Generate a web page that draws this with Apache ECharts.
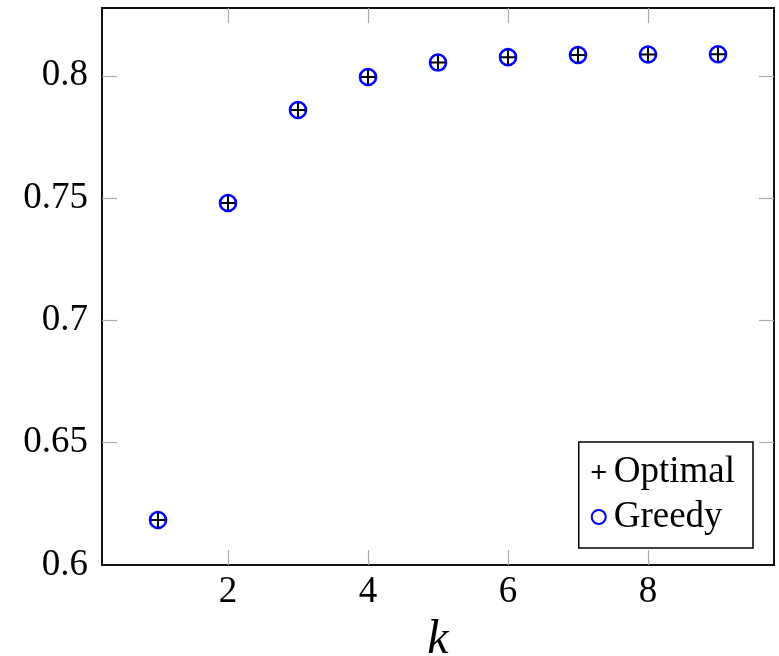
<!DOCTYPE html>
<html>
<head>
<meta charset="utf-8">
<script src="https://cdn.jsdelivr.net/npm/echarts@6/dist/echarts.min.js"></script>
<style>html,body{margin:0;padding:0;background:#fff;}#c{width:779px;height:656px;}</style>
</head>
<body>
<div id="c"></div>
<script>
const kValues = [1, 2, 3, 4, 5, 6, 7, 8, 9];
const optimal = [0.6184, 0.7480, 0.7860, 0.7995, 0.8054, 0.8076, 0.8085, 0.8087, 0.8088];
const greedy  = [0.6184, 0.7480, 0.7860, 0.7995, 0.8054, 0.8076, 0.8085, 0.8087, 0.8088];
const xTicks = [2, 4, 6, 8];
const yTicks = [0.6, 0.65, 0.7, 0.75, 0.8];
const seriesNames = ['Optimal', 'Greedy'];

const FONT = 'Liberation Serif';
const PLUS = 'path://M6,0H8V14H6Z M0,6H14V8H0Z';
const tickStyle = {show: true, inside: true, length: 15, lineStyle: {color: '#aaaaaa', width: 1.2}};
// tick marks at the frame edge are hidden by the frame itself
const yInnerTicks = yTicks.filter(v => v > 0.6);

const chart = echarts.init(document.getElementById('c'), null, {renderer: 'canvas'});
chart.setOption({
  animation: false,
  backgroundColor: '#fff',
  grid: {left: 102, right: 5, top: 8, bottom: 91, containLabel: false, outerBoundsMode: 'none',
    show: true, borderColor: '#111', borderWidth: 2, backgroundColor: 'transparent'},
  xAxis: [{
    type: 'value', min: 0.2, max: 9.8, position: 'bottom',
    name: 'k', nameLocation: 'middle', nameGap: 42,
    nameTextStyle: {fontFamily: FONT, fontStyle: 'italic', fontSize: 48, color: '#000'},
    axisLine: {show: false},
    axisTick: Object.assign({customValues: xTicks}, tickStyle),
    axisLabel: {customValues: xTicks, fontFamily: FONT, fontSize: 37, color: '#000', margin: 9},
    splitLine: {show: false}
  }, {
    type: 'value', min: 0.2, max: 9.8, position: 'top',
    axisLine: {show: false},
    axisTick: Object.assign({customValues: xTicks}, tickStyle),
    axisLabel: {show: false},
    splitLine: {show: false}
  }],
  yAxis: [{
    type: 'value', min: 0.6, max: 0.8277, position: 'left',
    axisLine: {show: false},
    axisTick: Object.assign({customValues: yInnerTicks}, tickStyle),
    axisLabel: {customValues: yTicks, fontFamily: FONT, fontSize: 37, color: '#000', margin: 14,
      formatter: v => String(+v.toFixed(2))},
    splitLine: {show: false}
  }, {
    type: 'value', min: 0.6, max: 0.8277, position: 'right',
    axisLine: {show: false},
    axisTick: Object.assign({customValues: yInnerTicks}, tickStyle),
    axisLabel: {show: false},
    splitLine: {show: false}
  }],
  legend: {
    data: seriesNames,
    orient: 'vertical',
    right: 26, bottom: 108,
    backgroundColor: '#fff',
    borderColor: '#000', borderWidth: 1.5, borderRadius: 0,
    padding: [10, 18, 11, 12],
    itemGap: 5, itemWidth: 14, itemHeight: 14,
    textStyle: {fontFamily: FONT, fontSize: 37, color: '#000', lineHeight: 40, padding: [0, 0, 0, 3]}
  },
  series: [{
    name: seriesNames[1], type: 'scatter', z: 2,
    data: kValues.map((k, i) => [k, greedy[i]]),
    symbol: 'circle', symbolSize: 16,
    itemStyle: {color: 'transparent', borderColor: '#0000ff', borderWidth: 2.6, opacity: 1}
  }, {
    name: seriesNames[0], type: 'scatter', z: 3,
    data: kValues.map((k, i) => [k, optimal[i]]),
    symbol: PLUS, symbolSize: 14,
    itemStyle: {color: '#000', borderWidth: 0, opacity: 1}
  }]
});
</script>
</body>
</html>
